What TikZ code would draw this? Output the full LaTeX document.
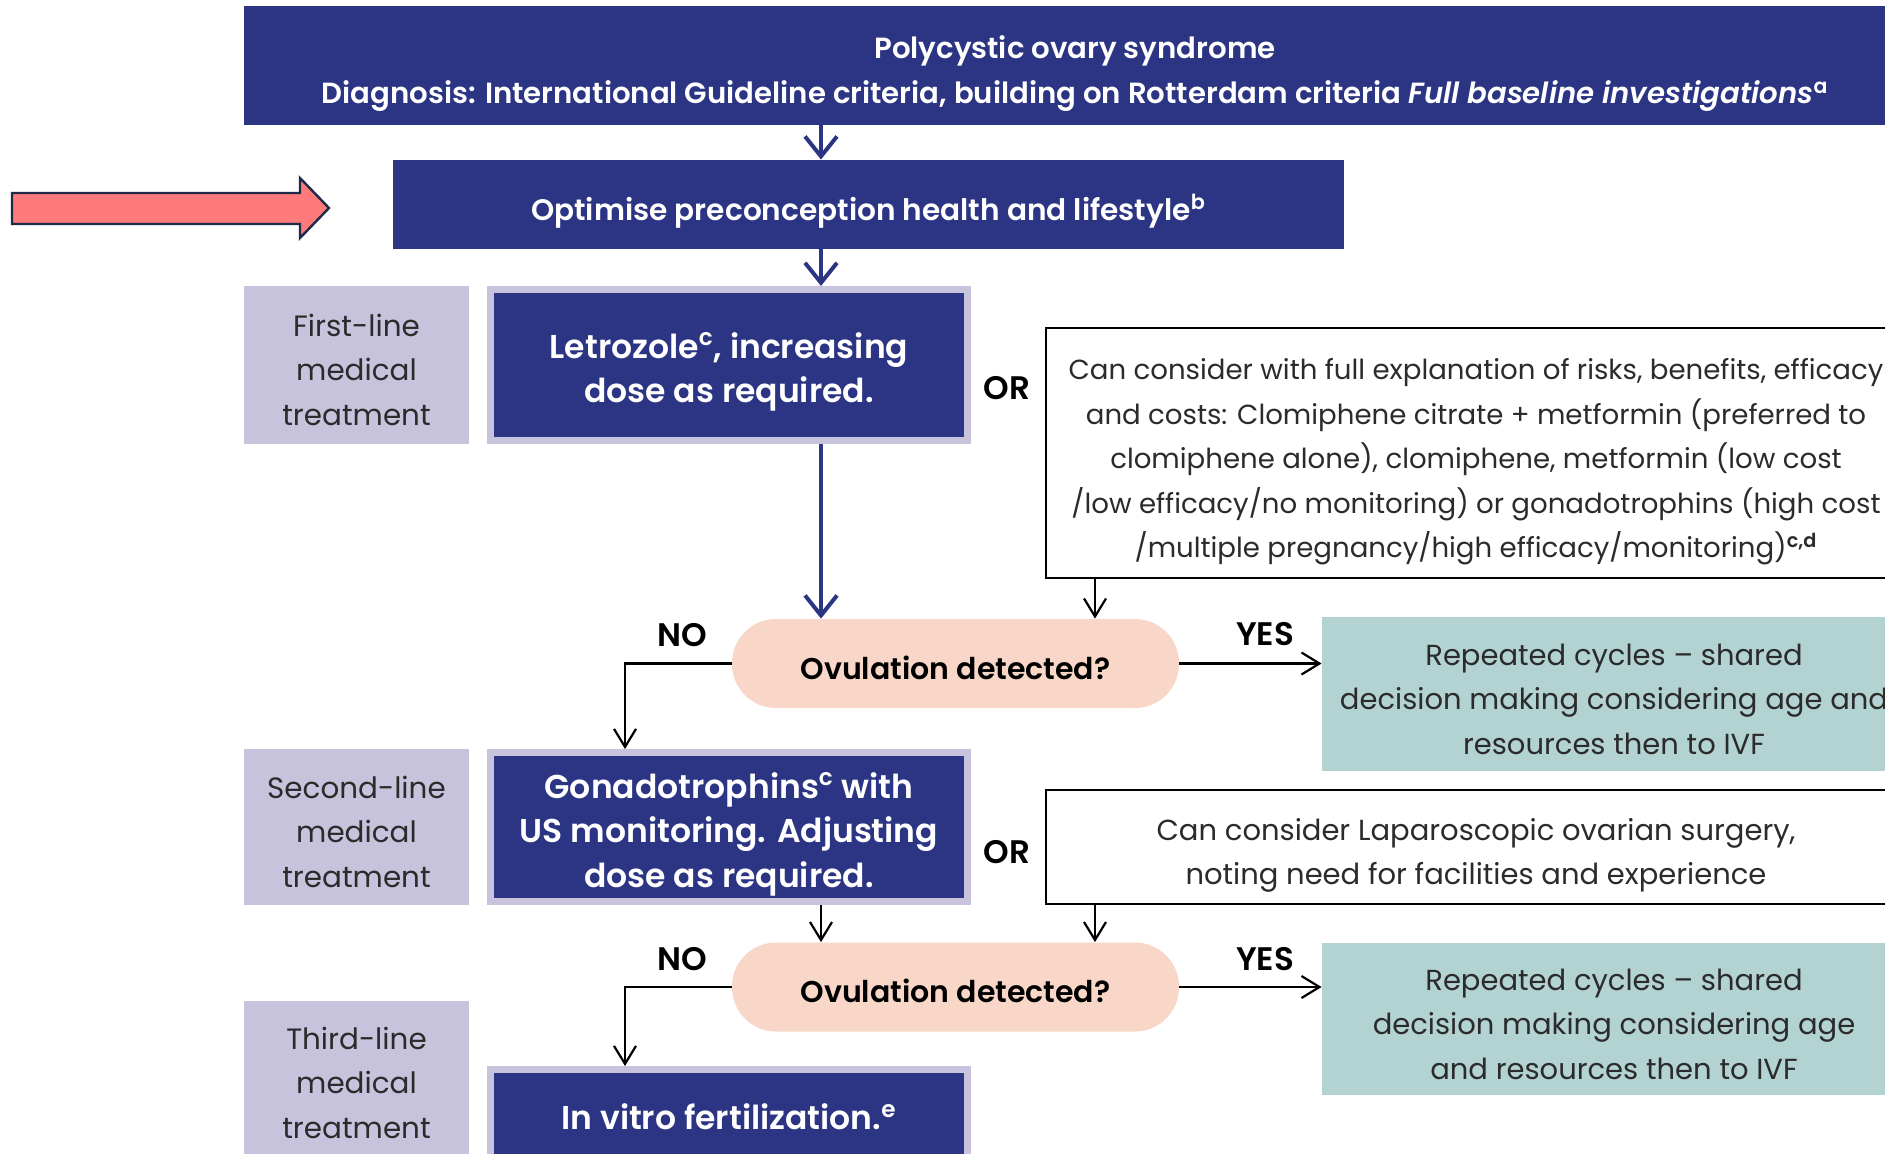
\documentclass[tikz,border=0pt]{standalone}
\usepackage{fontspec}
\IfFontExistsTF{Poppins SemiBold}
  {\setmainfont{Poppins}[BoldFont=Poppins SemiBold, BoldItalicFont=Poppins SemiBold Italic]}
  {\setmainfont{Poppins}}
\usepackage{tikz}
\usetikzlibrary{calc}
\usetikzlibrary{shapes.geometric, arrows.meta, fit}

\definecolor{pcosnavy}{HTML}{2C3583}
\definecolor{pcoslav}{HTML}{C7C3DC}
\definecolor{pcospeach}{HTML}{F8D6C8}
\definecolor{pcosteal}{HTML}{B2D3D1}
\definecolor{pcosred}{HTML}{FF7A7A}
\definecolor{pcosink}{HTML}{1D2A48}
\definecolor{pcosgray}{HTML}{2B2B2B}

% centred lines, set a little low in their box
\newcommand{\stacked}[1]{\raisebox{-3.4pt}[\height][\depth]{\begin{tabular}{@{}c@{}}#1\end{tabular}}}

\tikzstyle{navybox} = [rectangle, 
fill=pcosnavy, 
text=white, 
font=\bfseries\fontsize{14.8}{22.25}\selectfont]
\tikzstyle{drugbox} = [rectangle, 
fill=pcosnavy, 
draw=pcoslav, 
line width=3.5pt, 
minimum width=238.5pt, 
text=white, 
font=\bfseries\fontsize{16.5}{22.25}\selectfont]
\tikzstyle{linelabel} = [rectangle, 
fill=pcoslav, 
minimum width=112.5pt, 
text=pcosgray, 
font=\fontsize{14.7}{22.25}\selectfont]
\tikzstyle{optionbox} = [rectangle, 
draw=black, 
line width=1.2pt, 
fill=white, 
minimum width=430pt, 
text=pcosgray, 
font=\fontsize{14.5}{22.25}\selectfont]
\tikzstyle{decision} = [rectangle, 
rounded corners=22pt, 
fill=pcospeach, 
minimum width=223.5pt, 
minimum height=44.5pt, 
font=\bfseries\fontsize{15}{22.25}\selectfont]
\tikzstyle{outcome} = [rectangle, 
fill=pcosteal, 
minimum width=292pt, 
text=pcosgray, 
font=\fontsize{14.5}{22.25}\selectfont]
\tikzstyle{answer} = [font=\bfseries\fontsize{16.3}{18}\selectfont]
\tikzstyle{mainarrow} = [line width=2pt, draw=pcosnavy, -{Straight Barb[length=10pt,width=16pt]}]
\tikzstyle{arrow} = [line width=1.1pt, -{Straight Barb[length=9pt,width=11pt]}]

\begin{document}
\begin{tikzpicture}[x=0.5pt, y=-0.5pt]
    \useasboundingbox (0,0) rectangle (1885,1153);
    \clip (0,0) rectangle (1885,1153);

    \coordinate (spine) at (821,0);
    \coordinate (sidecol) at (1095,0);
    \coordinate (nocol) at (625,0);

    \node (diag) [navybox, minimum width=831pt, minimum height=59.5pt, font=\bfseries\fontsize{14.6}{22.25}\selectfont] at (1075,65.5) {\stacked{Polycystic ovary syndrome\\Diagnosis: International Guideline criteria, building on Rotterdam criteria \textit{Full baseline investigations}\textsuperscript{a}}};
    \node (optim) [navybox, minimum width=475.5pt, minimum height=44.5pt] at (868.5,204.5) {\stacked{Optimise preconception health and lifestyle\textsuperscript{b}}};

    % first line
    \node (firstlbl) [linelabel, minimum height=79pt] at (356.5,365) {\stacked{First-line\\medical\\treatment}};
    \node (letro) [drugbox, minimum height=75.5pt] at (729,365) {\stacked{Letrozole\textsuperscript{c}, increasing\\dose as required.}};
    \node (or1) [answer] at (1007,388) {OR};
    \node (cons1) [optionbox, minimum height=125pt, font=\fontsize{13.8}{22.25}\selectfont] at (1476,453) {\stacked{Can consider with full explanation of risks, benefits, efficacy\\and costs: Clomiphene citrate + metformin (preferred to\\clomiphene alone), clomiphene, metformin (low cost\\/low efficacy/no monitoring) or gonadotrophins (high cost\\/multiple pregnancy/high efficacy/monitoring)\textsuperscript{\bfseries c,d}}};
    \node (ovul1) [decision] at (955.5,663.5) {\stacked{Ovulation detected?}};
    \node (no1) [answer] at (682,635) {NO};
    \node (yes1) [answer] at (1265,634) {YES};
    \node (rep1) [outcome, minimum height=77pt] at (1614,694) {\stacked{Repeated cycles -- shared\\decision making considering age and\\resources then to IVF}};

    % second line
    \node (secondlbl) [linelabel, minimum height=78pt] at (356.5,827) {\stacked{Second-line\\medical\\treatment}};
    \node (gonad) [drugbox, minimum height=74.5pt] at (729,827) {\stacked{Gonadotrophins\textsuperscript{c} with\\US monitoring. Adjusting\\dose as required.}};
    \node (or2) [answer] at (1007,852) {OR};
    \node (cons2) [optionbox, minimum height=57pt] at (1476,847) {\stacked{Can consider Laparoscopic ovarian surgery,\\noting need for facilities and experience}};
    \node (ovul2) [decision] at (955.5,987) {\stacked{Ovulation detected?}};
    \node (no2) [answer] at (682,959) {NO};
    \node (yes2) [answer] at (1265,959) {YES};
    \node (rep2) [outcome, minimum height=76pt] at (1614,1019) {\stacked{Repeated cycles -- shared\\decision making considering age\\and resources then to IVF}};

    % third line
    \node (thirdlbl) [linelabel, minimum height=77pt] at (356.5,1078) {\stacked{Third-line\\medical\\treatment}};
    \node (ivf) [drugbox, minimum height=44.5pt] at (729,1114) {\stacked{In vitro fertilization.\textsuperscript{e}}};

    % pointer
    \draw [pcosink, fill=pcosred, line width=1.2pt] (12,193) -- (300,193) -- (300,178) -- (329,208) -- (300,238) -- (300,224) -- (12,224) -- cycle;

    \draw [mainarrow] (diag.south -| spine) -- (optim.north -| spine);
    \draw [mainarrow] (optim.south -| spine) -- (letro.north -| spine);
    \draw [mainarrow] (letro.south -| spine) -- (ovul1.north -| spine);
    \draw [arrow] (cons1.south -| sidecol) -- (ovul1.north -| sidecol);
    \draw [arrow] (ovul1.west) -| (gonad.north -| nocol);
    \draw [arrow] (ovul1.east) -- (ovul1.east -| rep1.west);
    \draw [arrow] (gonad.south -| spine) -- (ovul2.north -| spine);
    \draw [arrow] (cons2.south -| sidecol) -- (ovul2.north -| sidecol);
    \draw [arrow] (ovul2.west) -| (ivf.north -| nocol);
    \draw [arrow] (ovul2.east) -- (ovul2.east -| rep2.west);
\end{tikzpicture}
\end{document}
